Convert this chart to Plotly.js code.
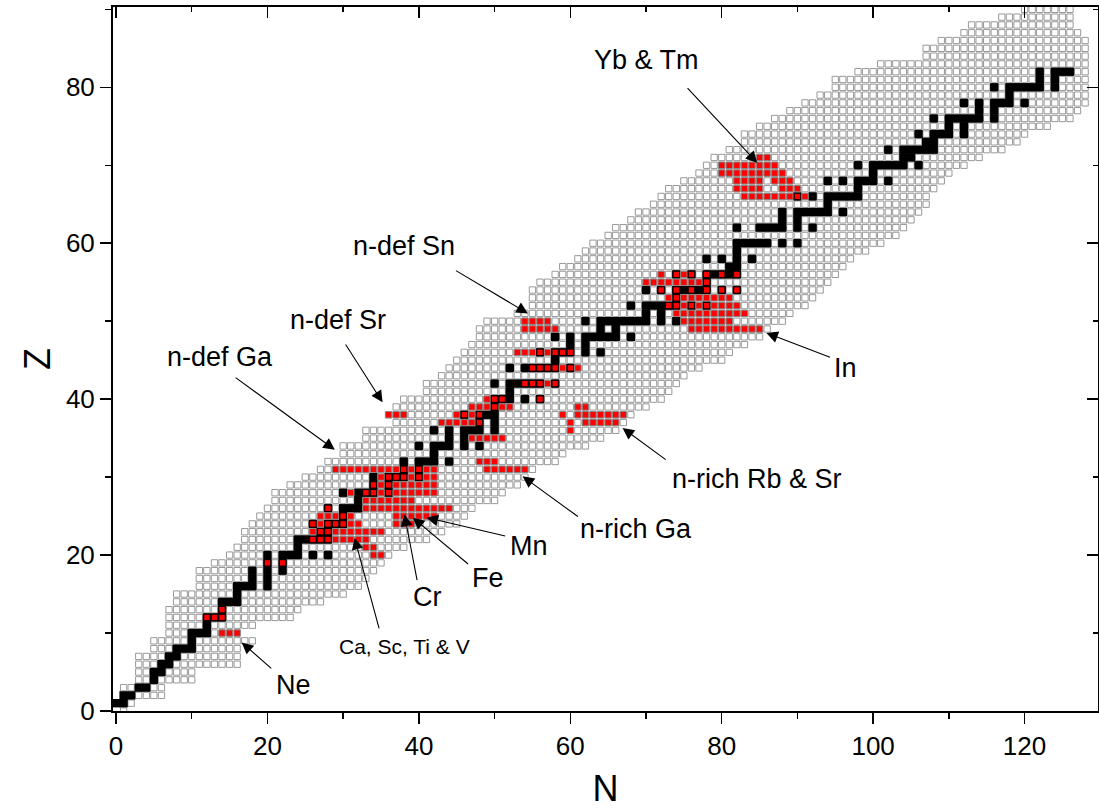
<!DOCTYPE html>
<html><head><meta charset="utf-8">
<script src="https://cdn.plot.ly/plotly-3.0.1.min.js"></script>
<style>html,body{margin:0;padding:0;background:#fff}#chart{width:1099px;height:809px}</style>
</head><body><div id="chart"></div>
<script>
// Grey band of nuclides: lowest / highest N for each Z = 0..90
const gridNmin = [1,0,1,1,3,3,3,3,5,5,7,7,7,7,8,8,11,11,11,13,15,16,17,17,18,19,20,21,21,23,25,27,28,30,30,33,33,37,36,37,38,41,41,43,44,45,46,47,48,48,49,53,55,55,55,56,58,59,61,62,63,65,66,68,69,71,72,73,75,77,78,79,81,83,83,85,87,89,91,93,95,95,98,101,107,107,109,112,113,117,120];
const gridNmax = [1,2,6,6,10,10,16,16,16,18,16,18,23,24,27,30,32,33,34,35,36,38,41,43,45,46,47,50,51,53,54,55,58,59,62,64,66,67,68,70,72,73,74,75,77,80,81,83,85,86,88,89,91,92,93,94,95,96,97,99,101,103,104,105,106,107,107,108,109,110,112,114,117,119,120,123,126,127,128,128,128,128,128,128,128,128,128,127,126,126,126];
// Stable nuclides: neutron numbers for each Z = 0..82
const stableNByZ = [[],[0,1],[1,2],[3,4],[5],[5,6],[6,7],[7,8],[8,9,10],[10],[10,11,12],[12],[12,13,14],[14],[14,15,16],[16],[16,17,18,20],[18,20],[18,20,22],[20,22],[20,22,23,24,26,28],[24],[24,25,26,27,28],[27,28],[26,28,29,30],[30],[28,30,31,32],[32],[30,32,33,34,36],[34,36],[34,36,37,38,40],[38,40],[38,40,41,42,44],[42],[40,42,43,44,46,48],[44,46],[42,44,46,47,48,50],[48,50],[46,48,49,50],[50],[50,51,52,54,56],[52],[50,52,53,54,55,56,58],[],[52,54,55,56,57,58,60],[58],[56,58,59,60,62,64],[60,62],[58,60,62,63,64,65,66,68],[64,66],[62,64,65,66,67,68,69,70,72,74],[70,72],[68,70,71,72,73,74,76,78],[74],[70,72,74,75,76,77,78,80,82],[78],[74,76,78,79,80,81,82],[81,82],[78,80,82,84],[82],[82,83,84,85,86,88,90],[],[82,85,86,87,88,90,92],[88,90],[88,90,91,92,93,94,96],[94],[90,92,94,95,96,97,98],[98],[94,96,98,99,100,102],[100],[98,100,101,102,103,104,106],[104,105],[102,104,105,106,107,108],[107,108],[106,108,109,110,112],[110,112],[108,110,111,112,113,114,116],[114,116],[112,114,116,117,118,120],[118],[116,118,119,120,121,122,124],[122,124],[122,124,125,126]];
// Measured (red) nuclides: [Z, first N, last N]
const redSpans = [[10,14,16],[12,12,14],[13,14,14],[19,20,20],[19,22,22],[20,34,35],[21,33,34],[22,26,33],[23,26,35],[24,26,32],[24,37,39],[25,27,31],[25,37,42],[26,28,28],[26,33,44],[27,33,39],[28,31,31],[28,33,42],[29,34,42],[30,35,42],[31,29,42],[31,49,54],[32,48,50],[35,47,51],[36,60,60],[37,43,48],[37,60,60],[37,62,66],[38,36,38],[38,45,48],[38,59,59],[38,61,67],[39,47,52],[39,61,62],[40,49,51],[40,56,56],[42,54,58],[44,55,61],[46,53,60],[49,54,58],[50,54,57],[49,76,85],[50,75,81],[51,74,83],[52,73,82],[53,73,81],[54,72,72],[54,74,74],[54,76,76],[54,78,78],[54,80,80],[54,82,82],[55,70,78],[56,72,72],[56,74,76],[56,78,78],[56,80,80],[56,82,82],[66,83,91],[67,82,85],[67,88,90],[68,82,85],[68,87,89],[69,80,88],[70,80,87],[71,85,86]];
// Labels: text, text position (N,Z), arrow tail (N,Z), arrow tip (N,Z)
const labelText = ['Yb &amp; Tm','n-def Sn','n-def Sr','n-def Ga','In','n-rich Rb &amp; Sr','n-rich Ga','Mn','Fe','Cr','Ca, Sc, Ti &amp; V','Ne'];
const labelPos = [[70.1,83.5],[38.0,59.6],[29.3,50.2],[13.7,45.4],[96.4,44.0],[84.6,29.7],[68.7,23.3],[54.6,21.2],[49.1,17.1],[41.2,14.6],[38.1,8.3],[23.4,3.3]];
const arrowTail = [[75.3,80.1],[44.7,56.6],[30.2,47.2],[15.6,42.9],[94.5,45.3],[72.8,32.1],[61.2,24.8],[51.6,22.4],[46.7,18.7],[39.8,16.6],[34.8,10.4],[20.7,5.3]];
const arrowTip = [[84.7,70.3],[54.4,51.0],[35.2,39.6],[28.9,33.5],[85.9,48.5],[66.9,36.3],[53.7,30.1],[41.0,24.8],[39.2,24.8],[38.1,25.2],[31.5,22.2],[16.6,8.8]];
const labelSize = [27,27,27,27,27,27,27,27,27,27,21,27];

const gx=[],gy=[];
gridNmin.forEach((lo,z)=>{for(let n=lo;n<=gridNmax[z];n++){gx.push(n);gy.push(z);}});
const sx=[],sy=[],stableSet=new Set();
stableNByZ.forEach((arr,z)=>arr.forEach(n=>{sx.push(n);sy.push(z);stableSet.add(n+','+z);}));
const rx=[],ry=[],rl=[];
redSpans.forEach(([z,a,b])=>{for(let n=a;n<=b;n++){rx.push(n);ry.push(z);rl.push(stableSet.has(n+','+z)?'#000':'#8a8a8a');}});

const traces=[
 {type:'scatter',mode:'markers',x:gx,y:gy,hoverinfo:'skip',marker:{symbol:'square',size:6.3,color:'#fff',line:{color:'#999',width:1}}},
 {type:'scatter',mode:'markers',x:sx,y:sy,hoverinfo:'skip',marker:{symbol:'square',size:8.4,color:'#000',line:{width:0}}},
 {type:'scatter',mode:'markers',x:rx,y:ry,hoverinfo:'skip',marker:{symbol:'square',size:6.4,color:'#ff0000',line:{color:rl,width:1}}},
 {type:'scatter',mode:'markers',x:[0],y:[0],xaxis:'x2',yaxis:'y2',marker:{opacity:0},hoverinfo:'skip'}
];
const F='"Liberation Sans", Arial, sans-serif';
const ann=[];
labelText.forEach((t,i)=>{
 ann.push({x:arrowTip[i][0],y:arrowTip[i][1],ax:arrowTail[i][0],ay:arrowTail[i][1],axref:'x',ayref:'y',xref:'x',yref:'y',text:'',showarrow:true,arrowhead:2,arrowsize:2.1,arrowwidth:1.1,arrowcolor:'#000',standoff:0,startstandoff:0});
 ann.push({x:labelPos[i][0],y:labelPos[i][1],xref:'x',yref:'y',text:t,showarrow:false,font:{family:F,size:labelSize[i],color:'#000'}});
});
const xr=[-0.4,129.7], yr=[0,90.3];
const tk={tickcolor:'#000',tickwidth:1.5};
const layout={
 width:1099,height:809,margin:{l:113,r:1,t:7,b:98},paper_bgcolor:'#fff',plot_bgcolor:'#fff',showlegend:false,
 font:{family:F,color:'#000'},
 xaxis:Object.assign({range:xr,tickvals:[0,20,40,60,80,100,120],ticks:'outside',ticklen:11,
   minor:{tickvals:[10,30,50,70,90,110,130],ticks:'outside',ticklen:6,tickwidth:1.5,tickcolor:'#000'},
   showline:true,linewidth:2,linecolor:'#000',showgrid:false,zeroline:false,tickfont:{family:F,size:26},
   title:{text:'N',font:{family:F,size:36},standoff:22}},tk),
 yaxis:Object.assign({range:yr,tickvals:[0,20,40,60,80],ticks:'outside',ticklen:11,
   minor:{tickvals:[10,30,50,70,90],ticks:'outside',ticklen:6,tickwidth:1.5,tickcolor:'#000'},
   showline:true,linewidth:2,linecolor:'#000',showgrid:false,zeroline:false,tickfont:{family:F,size:26},
   title:{text:'Z',font:{family:F,size:36},standoff:4}},tk),
 xaxis2:Object.assign({overlaying:'x',side:'top',range:xr,tickvals:[0,20,40,60,80,100,120],ticks:'inside',ticklen:11,
   minor:{tickvals:[10,30,50,70,90,110,130],ticks:'inside',ticklen:5,tickwidth:1.5,tickcolor:'#000'},
   showticklabels:false,showline:true,linewidth:2,linecolor:'#000',showgrid:false,zeroline:false},tk),
 yaxis2:Object.assign({overlaying:'y',side:'right',range:yr,tickvals:[0,20,40,60,80],ticks:'inside',ticklen:11,
   minor:{tickvals:[10,30,50,70,90],ticks:'inside',ticklen:5,tickwidth:1.5,tickcolor:'#000'},
   showticklabels:false,showline:true,linewidth:2,linecolor:'#000',showgrid:false,zeroline:false},tk),
 annotations:ann
};
Plotly.newPlot('chart',traces,layout,{staticPlot:true,displayModeBar:false});
</script></body></html>
